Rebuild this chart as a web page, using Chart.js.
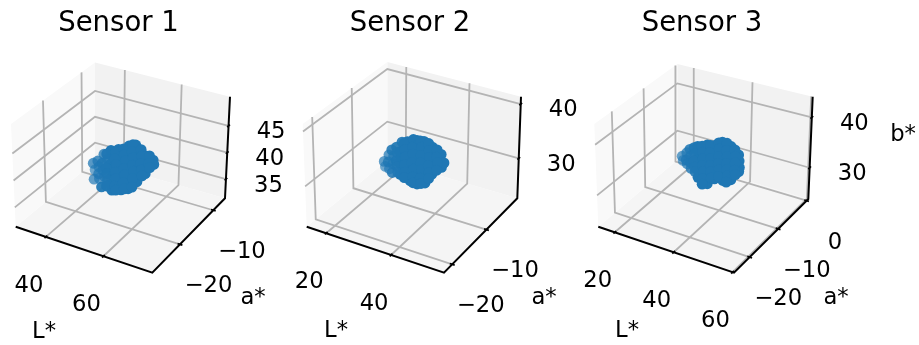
<!DOCTYPE html>
<html>
<head>
<meta charset="utf-8">
<style>
  html, body { margin: 0; padding: 0; background: #fff; }
  canvas { display: block; }
</style>
<script src="https://cdn.jsdelivr.net/npm/chart.js@4/dist/chart.umd.min.js"></script>
</head>
<body>
<canvas id="chart" width="919" height="345"></canvas>
<script>
'use strict';

const sensorNames = ['Sensor 1', 'Sensor 2', 'Sensor 3'];

// values (L*, a*, b* per sensor)
const lStar1 = [43,43,43, 46,46,46,46,46, 49,49,49,49,49,49,49, 52,52,52,52,52,52,52, 55,55,55,55,55,55,55, 58,58,58,58,58,58,58, 61,61,61,61, 63.7,63.7,
  44.5,44.5,44.5,44.5, 47.5,47.5,47.5,47.5,47.5,47.5, 50.5,50.5,50.5,50.5,50.5,50.5,50.5, 53.5,53.5,53.5,53.5,53.5,53.5,53.5, 56.5,56.5,56.5,56.5,56.5,56.5,56.5, 59.5,59.5,59.5,59.5,59.5, 62.3,62.3,62.3];
const aStar1 = [-17.3,-16.8,-17.1, -16.7,-17.2,-17,-16.6,-17.4, -17.1,-16.8,-17.3,-17,-16.6,-17.2,-16.9, -17.4,-16.8,-17,-16.7,-17.2,-17,-16.7, -16.9,-17.3,-17,-16.6,-17.2,-16.8,-17.1, -17.4,-17,-16.7,-17.2,-16.9,-17.3,-17, -17,-17.3,-16.8,-17.1, -17.1,-16.9,
  -17.2,-16.9,-17,-16.8, -17.1,-16.8,-17.3,-17,-16.9,-17.2, -17,-17.2,-16.8,-17.1,-16.9,-17.3,-17, -17.2,-17,-16.7,-17.1,-16.9,-17.3,-17, -17,-17.2,-16.9,-17.1,-16.8,-17,-17.2, -17.1,-16.9,-17.2,-17,-16.8, -17,-17.2,-16.9];
const bStar1 = [39.3,37.8,36.2, 41.1,39.7,38.3,36.9,35.4, 42.5,41.3,40,38.8,37.5,36.3,35, 43.3,42,40.8,39.5,38.3,37,35.4, 44.1,42.8,41.6,40.3,39.1,37.8,36.3, 45,43.8,42.6,41.3,40,38.8,38, 43.2,41.9,40.7,40, 42.9,42,
  39.9,38.6,37.4,36.4, 41.6,40.4,39.1,37.9,36.6,35.7, 42.4,41.2,39.9,38.7,37.4,36.2,35.3, 43.5,42.3,41,39.8,38.5,37.3,36, 44.6,43.4,42.1,40.9,39.6,38.4,36.9, 44.2,42.9,41.7,40.4,39.2, 43.4,42.1,41.2];

const lStar2 = [26.5,26.5, 29,29,29,29, 31.5,31.5,31.5,31.5,31.5, 34,34,34,34,34,34,34, 36.5,36.5,36.5,36.5,36.5,36.5,36.5, 39,39,39,39,39,39,39, 41.5,41.5,41.5,41.5,41.5, 44,44,44, 45,
  27.75,27.75,27.75, 30.25,30.25,30.25,30.25,30.25, 32.75,32.75,32.75,32.75,32.75,32.75, 35.25,35.25,35.25,35.25,35.25,35.25,35.25, 37.75,37.75,37.75,37.75,37.75,37.75,37.75, 40.25,40.25,40.25,40.25,40.25,40.25, 42.75,42.75,42.75,42.75];
const aStar2 = [-12.2,-11.9, -12.3,-11.8,-12,-12.2, -11.7,-12.3,-12,-11.9,-12.2, -12.4,-11.8,-12.1,-11.9,-12.2,-12,-11.7, -12,-12.3,-11.8,-12.1,-11.9,-12.2,-12, -12.3,-11.9,-12,-12.2,-11.8,-12.1,-12, -12.2,-11.9,-12.1,-12,-12.3, -12,-12.2,-11.9, -12.1,
  -12,-12.2,-11.9, -12.1,-11.9,-12.2,-12,-11.8, -12.2,-12,-11.9,-12.1,-12,-12.2, -11.9,-12.1,-12,-12.3,-11.9,-12.1,-12, -12.2,-11.9,-12,-12.1,-11.8,-12.2,-12, -12.1,-12,-11.9,-12.2,-12,-12.1, -12,-12.2,-11.9,-12.1];
const bStar2 = [31.1,30, 33.7,32.3,31,29.5, 35.2,33.8,32.5,31.1,29.6, 36.1,34.8,33.4,32.1,30.8,29.5,28.6, 36.5,35.2,33.9,32.6,31.2,29.9,28.6, 36.9,35.5,34.2,32.9,31.6,30.2,29.2, 36.2,35,33.8,32.6,31.4, 35.2,34,32.8, 33.9,
  32.4,31.2,29.8, 34.3,33.1,31.9,30.7,29.5, 35.5,34.2,32.8,31.5,30.1,29.2, 36.4,35.1,33.8,32.4,31,29.7,28.6, 36.7,35.4,34,32.7,31.3,30,28.9, 36.6,35.3,34,32.7,31.3,30.3, 35.8,34.6,33.4,32.2];

const lStar3 = [30.5,30.5, 33.25,33.25,33.25,33.25, 36,36,36,36,36,36, 38.75,38.75,38.75,38.75,38.75,38.75,38.75, 41.5,41.5,41.5,41.5,41.5,41.5, 44.25,44.25,44.25,44.25,44.25,44.25,44.25, 47,47,47,47,47,47, 49.75,49.75,49.75,49.75,
  32,32,32, 34.6,34.6,34.6,34.6,34.6, 37.4,37.4,37.4,37.4,37.4,37.4,37.4, 40.1,40.1,40.1,40.1,40.1,40.1, 42.9,42.9,42.9,42.9,42.9,42.9, 45.6,45.6,45.6,45.6,45.6,45.6,45.6, 48.4,48.4,48.4,48.4,48.4];
const aStar3 = [-13.1,-12.8, -13.2,-12.9,-13,-12.8, -13.3,-12.9,-13.1,-12.7,-13,-13.2, -12.8,-13.2,-13,-12.9,-13.3,-13,-12.8, -13.1,-12.9,-13.3,-13,-12.8,-13.1, -13.2,-13,-12.8,-13.1,-12.9,-13.3,-13, -13,-13.2,-12.9,-13.1,-12.8,-13, -13.2,-13,-12.9,-13.1,
  -13,-13.2,-12.9, -13.1,-12.9,-13.2,-13,-12.8, -13.2,-13,-12.9,-13.1,-12.8,-13,-13.2, -13,-13.2,-12.9,-13.1,-13,-12.8, -13.1,-12.9,-13,-13.2,-12.9,-13.1, -13,-13.2,-12.9,-13.1,-13,-12.8,-13.2, -13.1,-12.9,-13,-13.2,-12.9];
const bStar3 = [34.5,33.5, 36.4,35,33.7,32.4, 37.5,36.2,34.9,33.5,32.2,31.3, 38,36.7,35.4,34,32.8,31.5,30.3, 38.4,37.1,35.8,34.5,33.2,31.9, 39.6,38.3,37,35.7,34.4,33.1,32, 39.1,37.8,36.5,35.2,33.9,32.6, 38,36.7,35.4,34.7,
  35.4,34.1,33.2, 36.9,35.6,34.3,33,32, 37.7,36.4,35.1,33.8,32.5,31.2,30.2, 38.2,36.9,35.6,34.3,33,31.7, 39.2,37.9,36.5,35.2,33.9,32.6, 39.5,38.2,36.9,35.6,34.3,33,32, 38.7,37.4,36.1,34.8,33.8];

// tick labels
const lTicks = [[40, 60], [20, 40], [20, 40, 60]];
const aTicks = [[-20, -10], [-20, -10], [-20, -10, 0]];
const bTicks = [[35, 40, 45], [30, 40], [30, 40]];

// axis ranges
const lRange = [[29.5, 77], [14, 56.3], [14.4, 60.5]];
const aRange = [[-28.3, -6.5], [-22.4, -1], [-25.5, 0.6]];
const bRange = [[31.4, 50.5], [22.65, 41.35], [23.8, 44.1]];

// where each box lands in the picture: a/b/c/d are the floor corners
// (left, front, right, back), the capital ones the same corners at the top
const boxes = [
  { a: [15.7, 226.7], A: [11, 124], b: [152.3, 272.7], B: [152.7, 162.7], c: [225, 198.3], C: [230, 96.7], d: [95, 161.3], D: [95, 62.5] },
  { a: [306.7, 226.7], A: [302.7, 124], b: [444, 272.7], B: [444, 163.3], c: [517.3, 198.3], C: [521, 96.7], d: [387.3, 160.3], D: [387.3, 62] },
  { a: [598.3, 226.7], A: [594.3, 124], b: [734, 272.7], B: [734, 163.3], c: [808.3, 199], C: [812.7, 96.7], d: [677.3, 160], D: [677.3, 64] }
];
const titleX = [118.5, 410, 702];
const axisLabels = [
  [['L*', 44, 332.5], ['a*', 253, 298.5]],
  [['L*', 336, 331.5], ['a*', 544, 298.5]],
  [['L*', 627, 331.5], ['a*', 836, 298.5], ['b*', 903, 135.5]]
];

function lerp(p, q, t) {
  return [p[0] + (q[0] - p[0]) * t, p[1] + (q[1] - p[1]) * t];
}

function frac(range, v) {
  return (v - range[0]) / (range[1] - range[0]);
}

function project(i, l, a, b) {
  const box = boxes[i];
  const fx = frac(lRange[i], l), fy = frac(aRange[i], a), fz = frac(bRange[i], b);
  const floor = lerp(lerp(box.a, box.b, fx), lerp(box.d, box.c, fx), fy);
  const top = lerp(lerp(box.A, box.B, fx), lerp(box.D, box.C, fx), fy);
  const p = lerp(floor, top, fz);
  return { x: p[0], y: p[1] };
}

function lineSet(points, color, width, order) {
  return { data: points, showLine: true, borderColor: color, borderWidth: width, pointRadius: 0, fill: false, order: order, clip: false };
}

function paneSet(points, color) {
  return { data: points.concat([points[0]]), showLine: true, borderWidth: 0, borderColor: color, backgroundColor: color, pointRadius: 0, fill: 'shape', order: 9, clip: false };
}

const lAll = [lStar1, lStar2, lStar3], aAll = [aStar1, aStar2, aStar3], bAll = [bStar1, bStar2, bStar3];
const datasets = [];
const tickTexts = [];

sensorNames.forEach(function (name, i) {
  const lr = lRange[i], ar = aRange[i], br = bRange[i];
  const P = function (l, a, b) { return project(i, l, a, b); };

  // panes
  datasets.push(paneSet([P(lr[0], ar[0], br[0]), P(lr[0], ar[1], br[0]), P(lr[0], ar[1], br[1]), P(lr[0], ar[0], br[1])], '#f9f9f9'));
  datasets.push(paneSet([P(lr[0], ar[1], br[0]), P(lr[1], ar[1], br[0]), P(lr[1], ar[1], br[1]), P(lr[0], ar[1], br[1])], '#f2f2f2'));
  datasets.push(paneSet([P(lr[0], ar[0], br[0]), P(lr[1], ar[0], br[0]), P(lr[1], ar[1], br[0]), P(lr[0], ar[1], br[0])], '#f5f5f5'));

  // grid
  const grey = '#b4b4b4', gridW = 1.8;
  lTicks[i].forEach(function (v) {
    datasets.push(lineSet([P(v, ar[0], br[0]), P(v, ar[1], br[0]), P(v, ar[1], br[1])], grey, gridW, 8));
    const da = (ar[1] - ar[0]) * 0.018;
    datasets.push(lineSet([P(v, ar[0] - da, br[0]), P(v, ar[0] + da, br[0])], '#000', 1.7, 6));
    const p = P(v, ar[0], br[0]);
    tickTexts.push([v, p.x - 17, p.y + 49]);
  });
  aTicks[i].forEach(function (v) {
    datasets.push(lineSet([P(lr[0], v, br[1]), P(lr[0], v, br[0]), P(lr[1], v, br[0])], grey, gridW, 8));
    const dl = (lr[1] - lr[0]) * 0.018;
    datasets.push(lineSet([P(lr[1] - dl, v, br[0]), P(lr[1] + dl, v, br[0])], '#000', 1.7, 6));
    const p = P(lr[1], v, br[0]);
    tickTexts.push([v, p.x + 28.5, p.y + 42]);
  });
  bTicks[i].forEach(function (v) {
    datasets.push(lineSet([P(lr[0], ar[0], v), P(lr[0], ar[1], v), P(lr[1], ar[1], v)], grey, gridW, 8));
    const da = (ar[1] - ar[0]) * 0.018;
    datasets.push(lineSet([P(lr[1], ar[1] - da, v), P(lr[1], ar[1] + da, v)], '#000', 1.7, 6));
    const p = P(lr[1], ar[1], v);
    tickTexts.push([v, p.x + 42.5, p.y + 6.5]);
  });

  // the three axis lines
  datasets.push(lineSet([P(lr[0], ar[0], br[0]), P(lr[1], ar[0], br[0]), P(lr[1], ar[1], br[0]), P(lr[1], ar[1], br[1])], '#000', 2, 5));

  // scatter, faded with distance from the viewer like depthshade
  const depth = lAll[i].map(function (l, k) {
    return 0.5 * frac(lr, l) - 0.87 * frac(ar, aAll[i][k]);
  });
  const lo = Math.min.apply(null, depth), hi = Math.max.apply(null, depth);
  datasets.push({
    data: lAll[i].map(function (l, k) { return P(l, aAll[i][k], bAll[i][k]); }),
    backgroundColor: depth.map(function (d) {
      return 'rgba(31,119,180,' + (0.62 + 0.38 * Math.min(1, 3.5 * (d - lo) / (hi - lo))).toFixed(2) + ')';
    }),
    borderWidth: 0,
    pointRadius: 5.4,
    order: 1,
    clip: false
  });
});

const textPlugin = {
  id: 'textPlugin',
  afterDraw: function (chart) {
    const ctx = chart.ctx;
    const sx = chart.scales.x, sy = chart.scales.y;
    ctx.save();
    ctx.fillStyle = '#000';
    ctx.textAlign = 'center';
    ctx.textBaseline = 'middle';
    ctx.font = '27.5px "DejaVu Sans"';
    sensorNames.forEach(function (name, i) {
      ctx.fillText(name, sx.getPixelForValue(titleX[i]), sy.getPixelForValue(23.5));
    });
    ctx.font = '22.7px "DejaVu Sans"';
    tickTexts.forEach(function (t) {
      ctx.fillText(String(t[0]).replace('-', '\u2212'), sx.getPixelForValue(t[1]), sy.getPixelForValue(t[2]));
    });
    axisLabels.forEach(function (group) {
      group.forEach(function (t) {
        ctx.fillText(t[0], sx.getPixelForValue(t[1]), sy.getPixelForValue(t[2]));
      });
    });
    ctx.restore();
  }
};

new Chart(document.getElementById('chart').getContext('2d'), {
  type: 'scatter',
  data: { datasets: datasets },
  plugins: [textPlugin],
  options: {
    responsive: false,
    animation: false,
    devicePixelRatio: 1,
    layout: { padding: 0, autoPadding: false },
    plugins: { legend: { display: false }, tooltip: { enabled: false }, title: { display: false } },
    scales: {
      x: { type: 'linear', min: 0, max: 919, display: false },
      y: { type: 'linear', min: 0, max: 345, reverse: true, display: false }
    }
  }
});
</script>
</body>
</html>
